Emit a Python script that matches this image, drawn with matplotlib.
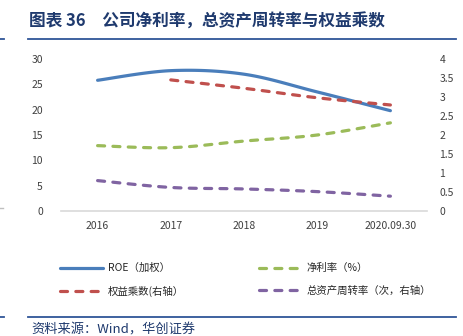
import matplotlib
matplotlib.use("Agg")
import matplotlib.pyplot as plt
import numpy as np
from matplotlib.lines import Line2D

plt.rcParams['font.family'] = ['Noto Sans CJK SC', 'DejaVu Sans']

years = ["2016", "2017", "2018", "2019", "2020.09.30"]
roe = [25.8, 27.7, 27.0, 23.5, 19.8]            # 左轴
net_margin = [12.9, 12.5, 13.8, 15.0, 17.4]     # 左轴
equity_mult = [None, 3.45, 3.23, 2.98, 2.79]    # 右轴
asset_turn = [0.80, 0.62, 0.58, 0.51, 0.39]     # 右轴


def smooth(xs, ys, n=30):
    # catmull-rom 曲线，类似 excel 的平滑线
    pts = [(x, y) for x, y in zip(xs, ys) if y is not None]
    px = np.array([p[0] for p in pts], float)
    py = np.array([p[1] for p in pts], float)
    ox, oy = [], []
    for i in range(len(px) - 1):
        p0 = max(i - 1, 0)
        p3 = min(i + 2, len(px) - 1)
        c1x = px[i] + (px[i + 1] - px[p0]) / 6
        c1y = py[i] + (py[i + 1] - py[p0]) / 6
        c2x = px[i + 1] - (px[p3] - px[i]) / 6
        c2y = py[i + 1] - (py[p3] - py[i]) / 6
        t = np.linspace(0, 1, n)
        bx = (1-t)**3*px[i] + 3*(1-t)**2*t*c1x + 3*(1-t)*t**2*c2x + t**3*px[i+1]
        by = (1-t)**3*py[i] + 3*(1-t)**2*t*c1y + 3*(1-t)*t**2*c2y + t**3*py[i+1]
        ox.extend(bx)
        oy.extend(by)
    return ox, oy


fig = plt.figure(figsize=(4.63, 3.36), dpi=100)
ax = fig.add_axes([61/463, 1 - 211/336, 366/463, 152/336])
ax2 = ax.twinx()

x = np.arange(len(years))
dash = (0, (2.2, 2.6))

l1, = ax.plot(*smooth(x, roe), color='#4A7EBB', lw=2.3, solid_capstyle='round',
              label='ROE（加权）')
l2, = ax.plot(*smooth(x, net_margin), color='#9BBB59', lw=2.3, ls=dash,
              dash_capstyle='round', label='净利率（%）')
l3, = ax2.plot(*smooth(x, equity_mult), color='#C0504D', lw=2.3, ls=dash,
               dash_capstyle='round', label='权益乘数(右轴）')
l4, = ax2.plot(*smooth(x, asset_turn), color='#8064A2', lw=2.3, ls=dash,
               dash_capstyle='round', label='总资产周转率（次，右轴）')

ax.set_xlim(-0.5, len(years) - 0.5)
ax.set_ylim(0, 30)
ax.set_yticks(range(0, 31, 5))
ax2.set_ylim(0, 4)
ax2.set_yticks(np.arange(0, 4.01, 0.5))
ax2.set_yticklabels(['0', '0.5', '1', '1.5', '2', '2.5', '3', '3.5', '4'])
ax.set_xticks(x)
ax.set_xticklabels(years)

for a in (ax, ax2):
    for s in a.spines.values():
        s.set_visible(False)
ax.spines['bottom'].set_visible(True)
ax.spines['bottom'].set_color('#D9D9D9')
ax.spines['bottom'].set_linewidth(1.2)
ax.tick_params(axis='y', length=0, pad=13, labelsize=7.5, labelcolor='#404040')
ax.tick_params(axis='x', length=0, pad=7, labelsize=7.5, labelcolor='#404040')
ax2.tick_params(axis='y', length=0, pad=9, labelsize=7.5, labelcolor='#404040')

# 图例按行排列：ROE、净利率 / 权益乘数、总资产周转率
fig.legend(handles=[l1, l3, l2, l4], ncol=2, loc='upper left',
           bbox_to_anchor=(60/463, 1 - 263/336), frameon=False, fontsize=7.5,
           handlelength=4.1, handletextpad=0.5, columnspacing=7.15,
           labelspacing=1.2, borderpad=0, borderaxespad=0, labelcolor='#262626')

# 标题与分隔线
fig.text(29/463, 1 - 22/336, '图表 36　公司净利率，总资产周转率与权益乘数',
         fontsize=12, fontweight='bold', color='#1F3A6E', va='center', ha='left')
for yy in (39, 317):
    fig.add_artist(Line2D([28/463, 456/463], [1 - yy/336] * 2, color='#2F5597', lw=1.3))
    fig.add_artist(Line2D([0, 4/463], [1 - yy/336] * 2, color='#2F5597', lw=1.3))
fig.add_artist(Line2D([0, 3/463], [1 - 208/336] * 2, color='#BFBFBF', lw=1))
fig.text(31/463, 1 - 330/336, '资料来源：Wind，华创证券', fontsize=9.5,
         style='italic', color='#1F3A6E', va='center', ha='left')

fig.savefig('out.png', dpi=100)
